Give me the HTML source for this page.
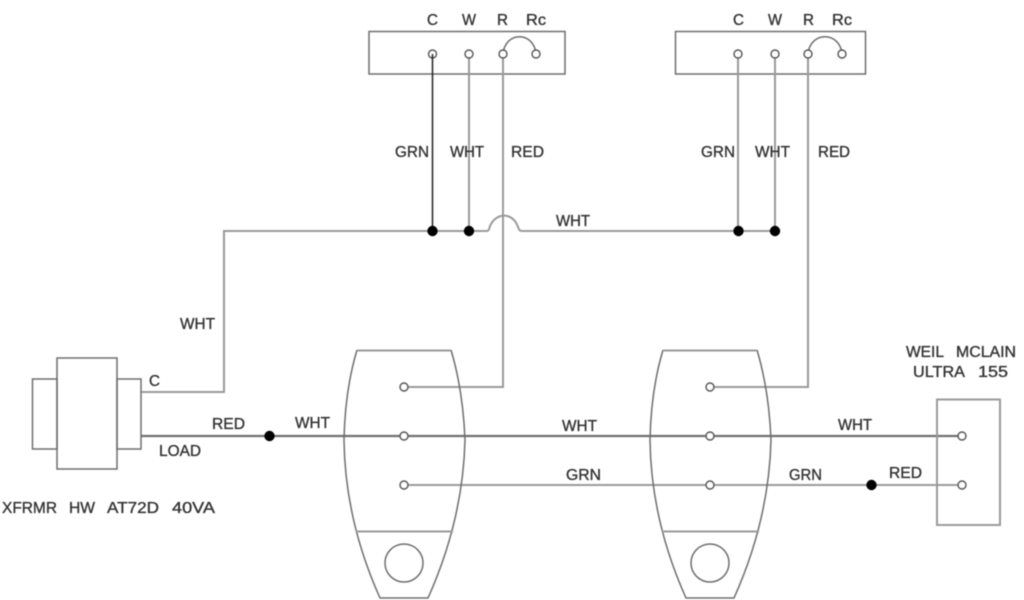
<!DOCTYPE html>
<html>
<head>
<meta charset="utf-8">
<style>
html,body{margin:0;padding:0;background:#fff;width:1024px;height:600px;overflow:hidden}
svg{display:block;filter:blur(0.55px)}
text{font-family:"Liberation Sans",sans-serif;font-size:16px;fill:#333;stroke:#333;stroke-width:0.35px}
.g{fill:none;stroke:#9a9a9a;stroke-width:2}
.s{fill:none;stroke:#6e6e6e;stroke-width:1.5}
.d{fill:none;stroke:#707070;stroke-width:2.2}
.k{fill:none;stroke:#222;stroke-width:1.5}
.t{fill:#fff;stroke:#555;stroke-width:1.4}
.b{fill:#000}
</style>
</head>
<body>
<svg width="1024" height="600" viewBox="0 0 1024 600" xmlns="http://www.w3.org/2000/svg">
<!-- top boxes -->
<rect class="s" x="369" y="31.5" width="196" height="42.5"/>
<rect class="s" x="675.5" y="31.5" width="190" height="42.5"/>
<path class="s" d="M503 54C505 31 534 31 536 54"/>
<path class="s" d="M808 54C810 31 840 31 842 54"/>
<!-- wires -->
<path class="g" d="M469 54V231M503 54V387H404M738 54V231M775 54V231M808 54V387H710"/>
<path class="g" d="M141 392H224V231H487C489 231 489 229 490 226C496 212 513 212 518 227C519 229 519 231 522 231H775"/>
<path class="d" d="M141 436H962"/>
<path class="g" d="M404 485H962"/>
<!-- transformer -->
<rect class="s" x="57" y="358" width="60" height="111"/>
<rect class="s" x="32.5" y="379" width="24.5" height="70"/>
<rect class="s" x="117" y="379" width="24" height="70"/>
<!-- modules -->
<g>
<path class="s" d="M357 350Q345 390 344 440Q345 520 380 598H428Q463 520 465 440Q463 390 451 350"/>
<path class="g" d="M357 350.500H451M356 531.500H453"/>
<circle class="s" cx="404" cy="563" r="19"/>
<circle class="t" cx="404" cy="387" r="4"/>
<circle class="t" cx="404" cy="436" r="4"/>
<circle class="t" cx="404" cy="485" r="4"/>
</g>
<g transform="translate(306 0)">
<path class="s" d="M357 350Q345 390 344 440Q345 520 380 598H428Q463 520 465 440Q463 390 451 350"/>
<path class="g" d="M357 350.500H451M356 531.500H453"/>
<circle class="s" cx="404" cy="563" r="19"/>
<circle class="t" cx="404" cy="387" r="4"/>
<circle class="t" cx="404" cy="436" r="4"/>
<circle class="t" cx="404" cy="485" r="4"/>
</g>
<!-- boiler box -->
<rect class="g" x="937" y="399.500" width="63" height="125.500"/>
<circle class="t" cx="962" cy="436" r="4"/>
<circle class="t" cx="962" cy="485" r="4"/>
<!-- top terminals -->
<circle class="t" cx="432.500" cy="54" r="4"/>
<circle class="t" cx="469" cy="54" r="4"/>
<circle class="t" cx="503" cy="54" r="4"/>
<circle class="t" cx="536" cy="54" r="4"/>
<circle class="t" cx="738" cy="54" r="4"/>
<circle class="t" cx="775" cy="54" r="4"/>
<circle class="t" cx="808" cy="54" r="4"/>
<circle class="t" cx="842" cy="54" r="4"/>
<path class="k" d="M432.500 54V231"/>
<!-- junction dots -->
<circle class="b" cx="432.500" cy="231" r="5.200"/>
<circle class="b" cx="469" cy="231" r="5.200"/>
<circle class="b" cx="738.500" cy="231" r="5.200"/>
<circle class="b" cx="775" cy="231" r="5.200"/>
<circle class="b" cx="269.500" cy="436" r="5.200"/>
<circle class="b" cx="871.500" cy="485" r="5.200"/>
<!-- labels -->
<text x="427" y="25" textLength="11" lengthAdjust="spacingAndGlyphs">C</text>
<text x="462" y="25" textLength="14" lengthAdjust="spacingAndGlyphs">W</text>
<text x="497" y="25" textLength="11" lengthAdjust="spacingAndGlyphs">R</text>
<text x="526" y="25" textLength="20" lengthAdjust="spacingAndGlyphs">Rc</text>
<text x="733" y="25" textLength="11" lengthAdjust="spacingAndGlyphs">C</text>
<text x="768" y="25" textLength="14" lengthAdjust="spacingAndGlyphs">W</text>
<text x="803" y="25" textLength="11" lengthAdjust="spacingAndGlyphs">R</text>
<text x="832" y="25" textLength="20" lengthAdjust="spacingAndGlyphs">Rc</text>
<text x="395" y="157" textLength="34" lengthAdjust="spacingAndGlyphs">GRN</text>
<text x="450" y="157" textLength="34" lengthAdjust="spacingAndGlyphs">WHT</text>
<text x="511" y="157" textLength="33" lengthAdjust="spacingAndGlyphs">RED</text>
<text x="701" y="157" textLength="34" lengthAdjust="spacingAndGlyphs">GRN</text>
<text x="755" y="157" textLength="35" lengthAdjust="spacingAndGlyphs">WHT</text>
<text x="818" y="157" textLength="32" lengthAdjust="spacingAndGlyphs">RED</text>
<text x="556" y="226" textLength="34" lengthAdjust="spacingAndGlyphs">WHT</text>
<text x="180" y="329" textLength="35" lengthAdjust="spacingAndGlyphs">WHT</text>
<text x="149" y="386" textLength="11" lengthAdjust="spacingAndGlyphs">C</text>
<text x="212" y="429" textLength="33" lengthAdjust="spacingAndGlyphs">RED</text>
<text x="159" y="456" textLength="42" lengthAdjust="spacingAndGlyphs">LOAD</text>
<text x="295" y="428" textLength="35" lengthAdjust="spacingAndGlyphs">WHT</text>
<text x="562" y="431" textLength="35" lengthAdjust="spacingAndGlyphs">WHT</text>
<text x="566" y="480" textLength="35" lengthAdjust="spacingAndGlyphs">GRN</text>
<text x="789" y="480" textLength="33" lengthAdjust="spacingAndGlyphs">GRN</text>
<text x="838" y="430" textLength="34" lengthAdjust="spacingAndGlyphs">WHT</text>
<text x="889" y="478" textLength="33" lengthAdjust="spacingAndGlyphs">RED</text>
<text x="906" y="357" textLength="38" lengthAdjust="spacingAndGlyphs">WEIL</text>
<text x="956" y="357" textLength="60" lengthAdjust="spacingAndGlyphs">MCLAIN</text>
<text x="913" y="377" textLength="52" lengthAdjust="spacingAndGlyphs">ULTRA</text>
<text x="978" y="377" textLength="30" lengthAdjust="spacingAndGlyphs">155</text>
<text x="2" y="513" textLength="55" lengthAdjust="spacingAndGlyphs">XFRMR</text>
<text x="69" y="513" textLength="26" lengthAdjust="spacingAndGlyphs">HW</text>
<text x="107" y="513" textLength="52" lengthAdjust="spacingAndGlyphs">AT72D</text>
<text x="172" y="513" textLength="43" lengthAdjust="spacingAndGlyphs">40VA</text>
</svg>
</body>
</html>
